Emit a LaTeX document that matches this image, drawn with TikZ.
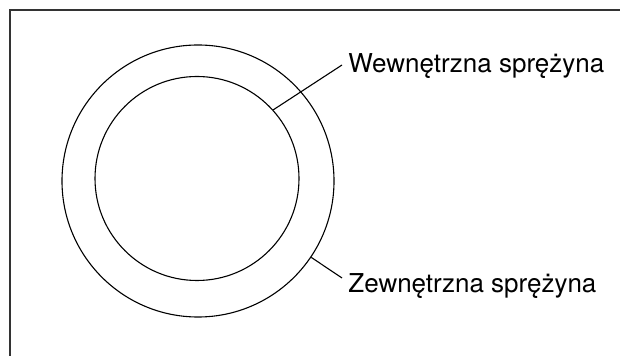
\documentclass[tikz,border=0pt]{standalone}
\usepackage{fontspec}
\setmainfont{TeX Gyre Heros}
\usepackage{tikz}
\usetikzlibrary{positioning}

\begin{document}
\begin{tikzpicture}[
  x=0.5pt, y=-0.5pt,
  ring/.style={draw, circle, line width=0.55pt, inner sep=0pt},
  lbl/.style={anchor=base west, inner sep=0pt, font=\fontsize{13pt}{15pt}\selectfont},
  lead/.style={line width=0.55pt}
]
\useasboundingbox (0,0) rectangle (620,356);
% frame (only top and left edges are in view)
\draw[line width=0.8pt, black!80] (10,356) -- (10,10) -- (620,10);

\node[ring, minimum size=136pt] (outer) at (198,181) {};
\node[ring, minimum size=102pt] (inner) at (197,178.5) {};

\node[lbl] (wlab) at (348,73) {Wewnętrzna sprężyna};
\node[lbl] (zlab) at (348,293) {Zewnętrzna sprężyna};
\coordinate (wend) at (342,65);
\coordinate (zend) at (342,278);

\draw[lead] (inner.42) -- (wend);
\draw[lead] (outer.-34) -- (zend);
\end{tikzpicture}
\end{document}
